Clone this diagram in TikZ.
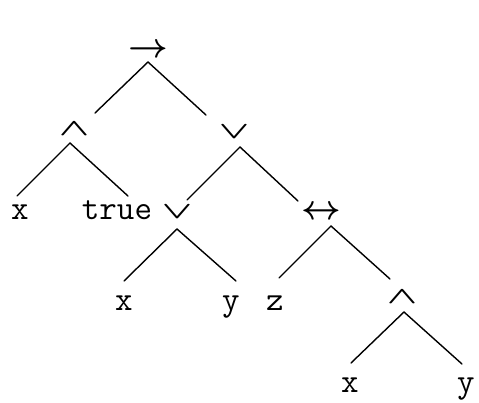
\documentclass[tikz,border=0pt]{standalone}
\newcommand{\opand}{\scalebox{1.15}[0.68]{$\wedge$}}
\newcommand{\opor}{\scalebox{1.15}[0.68]{$\vee$}}
\tikzset{
  leaf/.style={font=\ttfamily\fontsize{17}{20}\selectfont, anchor=base, inner sep=0pt},
  op/.style={font=\fontsize{17}{20}\selectfont\boldmath, inner sep=0pt},
  fork/.style={line width=0.7pt, line cap=round},
}
\begin{document}
\begin{tikzpicture}[x=0.5pt, y=-0.5pt]
\useasboundingbox (0,0) rectangle (479,403);
% operators
\node[op] (imp)  at (148,51)  {$\rightarrow$};
\node[op] (and1) at (74,129)  {\opand};
\node[op] (or1)  at (234,132) {\opor};
\node[op] (or2)  at (177,212) {\opor};
\node[op] (iff)  at (321,213) {$\leftrightarrow$};
\node[op] (and2) at (402,297) {\opand};
% leaves
\node[leaf] (x1)   at (20,219)  {x};
\node[leaf] (true) at (117,219) {true};
\node[leaf] (x2)   at (124,310) {x};
\node[leaf] (y2)   at (231,310) {y};
\node[leaf] (z)    at (275,310) {z};
\node[leaf] (x3)   at (350,392) {x};
\node[leaf] (y3)   at (466,392) {y};
% forks under each operator
\coordinate (impT)  at (148,62);  \coordinate (impL)  at (95,113);  \coordinate (impR)  at (206,115);
\coordinate (and1T) at (70,143);  \coordinate (and1L) at (17,196);  \coordinate (and1R) at (128,196);
\coordinate (or1T)  at (240,147); \coordinate (or1L)  at (187,200); \coordinate (or1R)  at (298,201);
\coordinate (or2T)  at (177,229); \coordinate (or2L)  at (124,281); \coordinate (or2R)  at (236,281);
\coordinate (iffT)  at (331,226); \coordinate (iffL)  at (279,278); \coordinate (iffR)  at (390,279);
\coordinate (and2T) at (404,312); \coordinate (and2L) at (351,363); \coordinate (and2R) at (462,364);
\foreach \n in {imp,and1,or1,or2,iff,and2}
  \draw[fork] (\n L) -- (\n T) -- (\n R);
\end{tikzpicture}
\end{document}
